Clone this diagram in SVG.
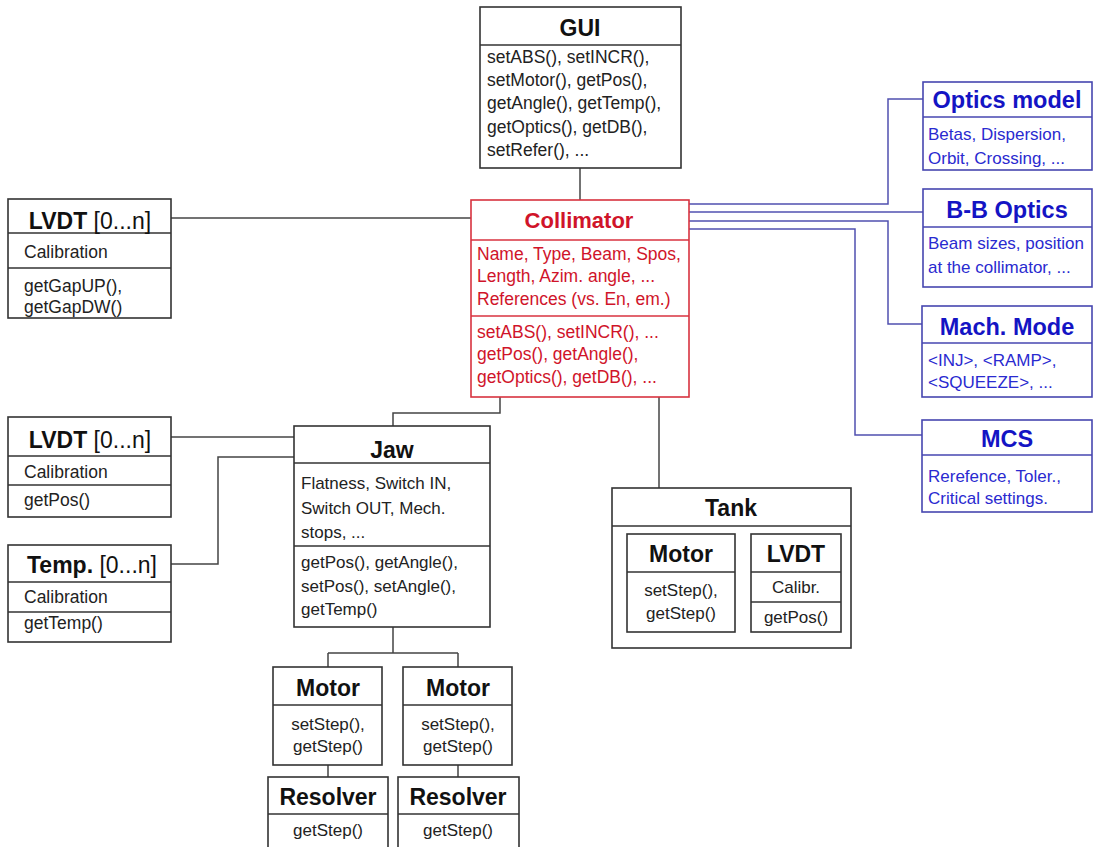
<svg xmlns="http://www.w3.org/2000/svg" width="1097" height="847" viewBox="0 0 1097 847">
<style>
  text { font-family: "Liberation Sans", Arial, sans-serif; }
  .box { fill: #fff; stroke: #333; stroke-width: 1.6; }
  .div { stroke: #333; stroke-width: 1.4; }
  .rbox { fill: #fff; stroke: #d8323f; stroke-width: 1.6; }
  .rdiv { stroke: #d8323f; stroke-width: 1.4; }
  .bbox { fill: #fff; stroke: #4646b0; stroke-width: 1.6; }
  .bdiv { stroke: #4646b0; stroke-width: 1.4; }
  .t { font-size: 23px; font-weight: bold; fill: #111; text-anchor: middle; }
  .b { font-size: 17.5px; fill: #222; }
  .bj { font-size: 17px; fill: #222; }
  .bc { font-size: 17px; fill: #222; text-anchor: middle; }
  .rt { font-size: 22px; font-weight: bold; fill: #d0142a; text-anchor: middle; }
  .rb { font-size: 17.5px; fill: #d0142a; }
  .bt { font-size: 23.5px; font-weight: bold; fill: #1414c4; text-anchor: middle; }
  .bb { font-size: 17px; fill: #2a2ad0; }
  .con { fill: none; stroke: #444; stroke-width: 1.5; }
  .bcon { fill: none; stroke: #5050b0; stroke-width: 1.5; }
</style>

<g id="connectors">
  <path class="con" d="M580,168 V200"/>
  <path class="con" d="M171,218 H471"/>
  <path class="con" d="M500,397 V413 H393 V426"/>
  <path class="con" d="M659,397 V488"/>
  <path class="con" d="M171,437 H294"/>
  <path class="con" d="M171,564 H218 V457 H294"/>
  <path class="con" d="M393,627 V653 M328,653 H458 M328,653 V667 M458,653 V667"/>
  <path class="con" d="M328,765 V777 M458,765 V777"/>
  <path class="bcon" d="M689,204 H888 V99 H923"/>
  <path class="bcon" d="M689,212 H923"/>
  <path class="bcon" d="M689,221 H888 V324 H922"/>
  <path class="bcon" d="M689,229 H855 V435 H922"/>
</g>

<g id="gui">
  <rect class="box" x="480" y="7" width="201" height="161"/>
  <line class="div" x1="480" y1="45" x2="681" y2="45"/>
  <text class="t" x="580" y="36">GUI</text>
  <text class="b" x="487" y="63">setABS(), setINCR(),</text>
  <text class="b" x="487" y="86">setMotor(), getPos(),</text>
  <text class="b" x="487" y="109">getAngle(), getTemp(),</text>
  <text class="b" x="487" y="133">getOptics(), getDB(),</text>
  <text class="b" x="487" y="156">setRefer(), ...</text>
</g>

<g id="collimator">
  <rect class="rbox" x="471" y="200" width="218" height="197"/>
  <line class="rdiv" x1="471" y1="240" x2="689" y2="240"/>
  <line class="rdiv" x1="471" y1="316" x2="689" y2="316"/>
  <text class="rt" x="579" y="228">Collimator</text>
  <text class="rb" x="477" y="260">Name, Type, Beam, Spos,</text>
  <text class="rb" x="477" y="282">Length,  Azim. angle, ...</text>
  <text class="rb" x="477" y="305">References (vs. En, em.)</text>
  <text class="rb" x="477" y="338">setABS(), setINCR(), ...</text>
  <text class="rb" x="477" y="360">getPos(), getAngle(),</text>
  <text class="rb" x="477" y="383">getOptics(), getDB(), ...</text>
</g>

<g id="lvdt-top">
  <rect class="box" x="8" y="199" width="163" height="119"/>
  <line class="div" x1="8" y1="233" x2="171" y2="233"/>
  <line class="div" x1="8" y1="268" x2="171" y2="268"/>
  <text class="t" x="90" y="229"><tspan>LVDT</tspan><tspan font-weight="normal"> [0...n]</tspan></text>
  <text class="b" x="24" y="258">Calibration</text>
  <text class="b" x="24" y="292">getGapUP(),</text>
  <text class="b" x="24" y="313">getGapDW()</text>
</g>

<g id="lvdt-jaw">
  <rect class="box" x="8" y="417" width="163" height="100"/>
  <line class="div" x1="8" y1="456" x2="171" y2="456"/>
  <line class="div" x1="8" y1="485" x2="171" y2="485"/>
  <text class="t" x="90" y="448"><tspan>LVDT</tspan><tspan font-weight="normal"> [0...n]</tspan></text>
  <text class="b" x="24" y="478">Calibration</text>
  <text class="b" x="24" y="506">getPos()</text>
</g>

<g id="temp">
  <rect class="box" x="8" y="545" width="163" height="97"/>
  <line class="div" x1="8" y1="582" x2="171" y2="582"/>
  <line class="div" x1="8" y1="612" x2="171" y2="612"/>
  <text class="t" x="92" y="573"><tspan>Temp.</tspan><tspan font-weight="normal"> [0...n]</tspan></text>
  <text class="b" x="24" y="603">Calibration</text>
  <text class="b" x="24" y="629">getTemp()</text>
</g>

<g id="jaw">
  <rect class="box" x="294" y="426" width="196" height="201"/>
  <line class="div" x1="294" y1="463" x2="490" y2="463"/>
  <line class="div" x1="294" y1="546" x2="490" y2="546"/>
  <text class="t" x="392" y="458">Jaw</text>
  <text class="bj" x="301" y="489">Flatness,  Switch IN,</text>
  <text class="bj" x="301" y="514">Switch OUT, Mech.</text>
  <text class="bj" x="301" y="538">stops, ...</text>
  <text class="bj" x="301" y="568">getPos(), getAngle(),</text>
  <text class="bj" x="301" y="592">setPos(), setAngle(),</text>
  <text class="bj" x="301" y="615">getTemp()</text>
</g>

<g id="tank">
  <rect class="box" x="612" y="488" width="239" height="160"/>
  <line class="div" x1="612" y1="526" x2="851" y2="526"/>
  <text class="t" x="731" y="516">Tank</text>
  <rect class="box" x="627" y="534" width="108" height="98"/>
  <line class="div" x1="627" y1="572" x2="735" y2="572"/>
  <text class="t" x="681" y="562">Motor</text>
  <text class="bc" x="681" y="596">setStep(),</text>
  <text class="bc" x="681" y="619">getStep()</text>
  <rect class="box" x="751" y="534" width="90" height="98"/>
  <line class="div" x1="751" y1="572" x2="841" y2="572"/>
  <line class="div" x1="751" y1="602" x2="841" y2="602"/>
  <text class="t" x="796" y="562">LVDT</text>
  <text class="bc" x="796" y="593">Calibr.</text>
  <text class="bc" x="796" y="623">getPos()</text>
</g>

<g id="motor1">
  <rect class="box" x="273" y="667" width="109" height="98"/>
  <line class="div" x1="273" y1="705" x2="382" y2="705"/>
  <text class="t" x="328" y="696">Motor</text>
  <text class="bc" x="328" y="730">setStep(),</text>
  <text class="bc" x="328" y="752">getStep()</text>
</g>

<g id="motor2">
  <rect class="box" x="403" y="667" width="109" height="98"/>
  <line class="div" x1="403" y1="705" x2="512" y2="705"/>
  <text class="t" x="458" y="696">Motor</text>
  <text class="bc" x="458" y="730">setStep(),</text>
  <text class="bc" x="458" y="752">getStep()</text>
</g>

<g id="resolver1">
  <rect class="box" x="268" y="777" width="120" height="80"/>
  <line class="div" x1="268" y1="814" x2="388" y2="814"/>
  <text class="t" x="328" y="805">Resolver</text>
  <text class="bc" x="328" y="836">getStep()</text>
</g>

<g id="resolver2">
  <rect class="box" x="398" y="777" width="121" height="80"/>
  <line class="div" x1="398" y1="814" x2="519" y2="814"/>
  <text class="t" x="458" y="805">Resolver</text>
  <text class="bc" x="458" y="836">getStep()</text>
</g>

<g id="optics-model">
  <rect class="bbox" x="923" y="82" width="169" height="88"/>
  <line class="bdiv" x1="923" y1="117" x2="1092" y2="117"/>
  <text class="bt" x="1007" y="108">Optics model</text>
  <text class="bb" x="928" y="140">Betas, Dispersion,</text>
  <text class="bb" x="928" y="164">Orbit, Crossing, ...</text>
</g>

<g id="bb-optics">
  <rect class="bbox" x="923" y="189" width="169" height="98"/>
  <line class="bdiv" x1="923" y1="227" x2="1092" y2="227"/>
  <text class="bt" x="1007" y="218">B-B Optics</text>
  <text class="bb" x="928" y="249">Beam sizes, position</text>
  <text class="bb" x="928" y="273">at the collimator, ...</text>
</g>

<g id="mach-mode">
  <rect class="bbox" x="922" y="306" width="170" height="91"/>
  <line class="bdiv" x1="922" y1="343" x2="1092" y2="343"/>
  <text class="bt" x="1007" y="335">Mach. Mode</text>
  <text class="bb" x="928" y="366">&lt;INJ&gt;, &lt;RAMP&gt;,</text>
  <text class="bb" x="928" y="388">&lt;SQUEEZE&gt;, ...</text>
</g>

<g id="mcs">
  <rect class="bbox" x="922" y="420" width="170" height="92"/>
  <line class="bdiv" x1="922" y1="455" x2="1092" y2="455"/>
  <text class="bt" x="1007" y="447">MCS</text>
  <text class="bb" x="928" y="482">Rerefence, Toler.,</text>
  <text class="bb" x="928" y="504">Critical settings.</text>
</g>
</svg>
